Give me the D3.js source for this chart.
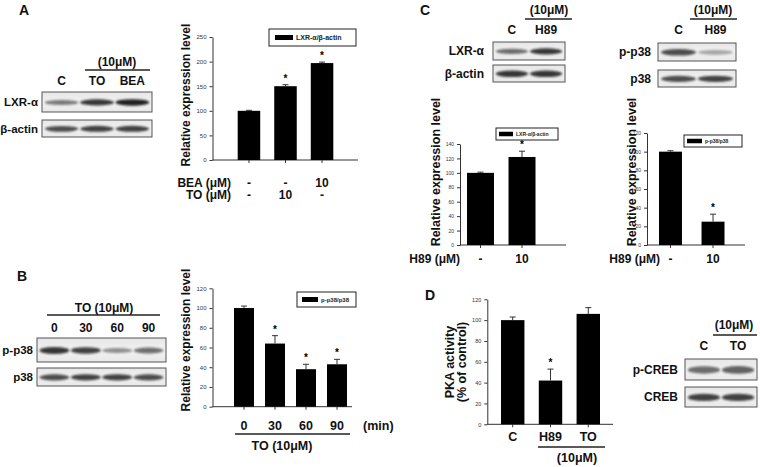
<!DOCTYPE html>
<html><head><meta charset="utf-8">
<script src="https://cdn.jsdelivr.net/npm/d3@7"></script>
<style>body{margin:0;background:#fff} svg{display:block} text{font-family:"Liberation Sans",Arial,sans-serif}</style>
</head><body><svg id="c" width="760" height="467"></svg>
<script>
// ---------- DATA ----------
const aCats = ["C","TO","BEA"];
const aValues = [100,150,197];
const aErrors = [1,3,2];
const aSig = [false,true,true];
const aTicks = [0,50,100,150,200,250];
const aRowBEA = ["-","-","10"];
const aRowTO = ["-","10","-"];
const aBlotLXR = [0.55,0.85,0.95];
const aBlotActin = [0.75,0.8,0.8];

const bCats = ["0","30","60","90"];
const bValues = [100,64,38,43];
const bErrors = [2,8,5,5];
const bSig = [false,true,true,true];
const bTicks = [0,20,40,60,80,100,120];
const bBlotP = [0.85,0.8,0.45,0.6];
const bBlotT = [0.75,0.8,0.8,0.75];

const c1Cats = ["C","H89"];
const c1Values = [100,122];
const c1Errors = [1,8];
const c1Sig = [false,true];
const c1Ticks = [0,20,40,60,80,100,120,140];
const c1Row = ["-","10"];
const c1BlotLXR = [0.6,0.85];
const c1BlotActin = [0.85,0.85];

const c2Cats = ["C","H89"];
const c2Values = [100,25];
const c2Errors = [1,8];
const c2Sig = [false,true];
const c2Ticks = [0,20,40,60,80,100,120];
const c2Row = ["-","10"];
const c2BlotP = [0.75,0.35];
const c2BlotT = [0.75,0.8];

const dCats = ["C","H89","TO"];
const dValues = [100,42,106];
const dErrors = [3,11,6];
const dSig = [false,true,false];
const dTicks = [0,20,40,60,80,100,120];
const dBlotP = [0.6,0.65];
const dBlotT = [0.8,0.8];

// ---------- DRAW ----------
const svg = d3.select("#c");
const defs = svg.append("defs");
defs.append("filter").attr("id","blur").attr("x","-20%").attr("y","-100%").attr("width","140%").attr("height","300%")
  .append("feGaussianBlur").attr("stdDeviation","1.3 0.9");
const grad = defs.append("linearGradient").attr("id","bg").attr("x1",0).attr("y1",0).attr("x2",0).attr("y2",1);
grad.append("stop").attr("offset","0").attr("stop-color","#e6e6e6");
grad.append("stop").attr("offset","0.5").attr("stop-color","#f2f2f2");
grad.append("stop").attr("offset","1").attr("stop-color","#e8e8e8");

function txt(x,y,s,opt={}){
  const t = svg.append("text").attr("x",x).attr("y",y).text(s)
    .attr("font-size",opt.size||12).attr("font-weight",opt.weight||"bold")
    .attr("text-anchor",opt.anchor||"middle").attr("fill",opt.fill||"#111");
  if(opt.rotate) t.attr("transform",`rotate(-90,${x},${y})`);
  return t;
}
function hline(x1,x2,y,w=1.3){
  svg.append("line").attr("x1",x1).attr("x2",x2).attr("y1",y).attr("y2",y).attr("stroke","#222").attr("stroke-width",w);
}
function blot(x0,x1,y0,y1,vals,label,labelX,thick,fs){
  const g = svg.append("g");
  g.append("rect").attr("x",x0).attr("y",y0).attr("width",x1-x0).attr("height",y1-y0)
    .attr("fill","url(#bg)").attr("stroke","#555").attr("stroke-width",1);
  const lane = d3.scaleBand().domain(d3.range(vals.length)).range([x0,x1]).paddingInner(0.05).paddingOuter(0.08);
  const h = y1-y0;
  g.selectAll("ellipse").data(vals).join("ellipse")
    .attr("cx",(d,i)=>lane(i)+lane.bandwidth()/2)
    .attr("cy",y0+h*0.52)
    .attr("rx",lane.bandwidth()*0.5)
    .attr("ry",d=>h*(thick*0.45+thick*0.6*d))
    .attr("fill","#151515").attr("opacity",d=>d)
    .attr("filter","url(#blur)");
  txt(labelX,y0+h*0.5+4.3,label,{anchor:"end",size:fs});
  return lane;
}
function barChart(o){
  const y = d3.scaleLinear().domain([0,o.max]).range([o.y0,o.y1]);
  const x = d3.scaleBand().domain(o.cats).range(o.barRange).paddingInner(o.pad).paddingOuter(0);
  const g = svg.append("g");
  const ya = g.append("g").attr("transform",`translate(${o.ax},0)`)
    .call(d3.axisLeft(y).tickValues(o.ticks).tickSize(3).tickPadding(3).tickSizeOuter(0));
  ya.select(".domain").attr("stroke","#333");
  ya.selectAll(".tick line").attr("stroke","#333");
  ya.selectAll("text").attr("font-size",o.tickSize||6).attr("fill","#333").attr("font-family","Liberation Sans, Arial");
  const xa = g.append("g").attr("transform",`translate(0,${o.y0})`)
    .call(d3.axisBottom(x).tickSize(3).tickFormat("").tickSizeOuter(0));
  xa.select(".domain").attr("d",`M${o.ax},0H${o.axEnd}`).attr("stroke","#333");
  xa.selectAll(".tick line").attr("stroke","#333");
  g.selectAll("rect.bar").data(o.values).join("rect").attr("class","bar")
    .attr("x",(d,i)=>x(o.cats[i])).attr("width",x.bandwidth())
    .attr("y",d=>y(d)).attr("height",d=>o.y0-y(d)).attr("fill","#000");
  const eb = g.selectAll("g.eb").data(o.values).join("g").attr("class","eb");
  eb.append("line").attr("x1",(d,i)=>x(o.cats[i])+x.bandwidth()/2).attr("x2",(d,i)=>x(o.cats[i])+x.bandwidth()/2)
    .attr("y1",d=>y(d)).attr("y2",(d,i)=>y(d+o.errors[i])).attr("stroke","#333").attr("stroke-width",1);
  eb.append("line").attr("x1",(d,i)=>x(o.cats[i])+x.bandwidth()/2-3).attr("x2",(d,i)=>x(o.cats[i])+x.bandwidth()/2+3)
    .attr("y1",(d,i)=>y(d+o.errors[i])).attr("y2",(d,i)=>y(d+o.errors[i])).attr("stroke","#333").attr("stroke-width",1);
  g.selectAll("text.sig").data(o.values).join("text").attr("class","sig")
    .attr("x",(d,i)=>x(o.cats[i])+x.bandwidth()/2)
    .attr("y",(d,i)=>y(d+o.errors[i])-3)
    .attr("text-anchor","middle").attr("font-size",10).attr("font-weight","bold")
    .attr("font-family","Liberation Sans, Arial")
    .text((d,i)=>o.sig[i]?"*":"");
  if(o.legend){
    const L = o.legend;
    g.append("rect").attr("x",L.x0).attr("y",L.y0).attr("width",L.x1-L.x0).attr("height",L.y1-L.y0)
      .attr("fill","#fff").attr("stroke","#222").attr("stroke-width",1);
    const cy=(L.y0+L.y1)/2;
    g.append("rect").attr("x",L.sx0).attr("y",cy-L.sh/2).attr("width",L.sx1-L.sx0).attr("height",L.sh).attr("fill","#000");
    g.append("text").attr("x",L.sx1+3).attr("y",cy+L.fs*0.36).attr("font-size",L.fs).attr("font-weight","bold")
      .attr("fill","#222").attr("font-family","Liberation Sans, Arial").text(L.text);
  }
  return {x,y};
}

// ===== Panel A =====
txt(24,15,"A",{size:14});
txt(117,66,"(10μM)",{size:12});
hline(85,150,70);
const aLane = blot(42,152,92,112,aBlotLXR,"LXR-α",38,0.16,11.5);
aCats.forEach((c,i)=>txt(aLane(i)+aLane.bandwidth()/2,85,c,{size:12}));
blot(42,152,120,137,aBlotActin,"β-actin",38,0.19,11.5);

const A = barChart({cats:aCats,values:aValues,errors:aErrors,sig:aSig,ticks:aTicks,max:250,
  y0:160,y1:37,ax:212.5,axEnd:358,barRange:[237.7,333.3],pad:0.384,
  legend:{x0:269,x1:356,y0:29,y1:46,sx0:275,sx1:293,sh:5,fs:7,text:"LXR-α/β-actin"}});
txt(190,95,"Relative expression level",{rotate:true,size:12});
txt(231,186.5,"BEA (μM)",{anchor:"end",size:12});
txt(231,199,"TO (μM)",{anchor:"end",size:12});
aCats.forEach((c,i)=>{
  const cx=A.x(c)+A.x.bandwidth()/2;
  txt(cx,186.5,aRowBEA[i],{size:12});
  txt(cx,199,aRowTO[i],{size:12});
});

// ===== Panel B =====
txt(22,281,"B",{size:14});
txt(104,312,"TO (10μM)",{size:12});
hline(47,160,315);
const bLane = blot(37,166,338,362,bBlotP,"p-p38",33,0.15,11.5);
bCats.forEach((c,i)=>txt(bLane(i)+bLane.bandwidth()/2,332,c,{size:12}));
blot(37,166,368,386,bBlotT,"p38",33,0.19,11.5);

const B = barChart({cats:bCats,values:bValues,errors:bErrors,sig:bSig,ticks:bTicks,max:120,
  y0:406.7,y1:288.3,ax:212.5,axEnd:352,barRange:[234,347],pad:0.355,
  legend:{x0:297,x1:356,y0:292,y1:307,sx0:302,sx1:318,sh:5,fs:6,text:"p-p38/p38"}});
txt(190,340,"Relative expression level",{rotate:true,size:12});
bCats.forEach(c=>txt(B.x(c)+B.x.bandwidth()/2,430,c,{size:12.5}));
txt(363,430,"(min)",{anchor:"start",size:12.5});
hline(235,350,434);
txt(282,450,"TO (10μM)",{size:12.5});

// ===== Panel C (left) =====
txt(425,15,"C",{size:14});
txt(549,14,"(10μM)",{size:12});
hline(525,572,19);
const c1Lane = blot(493,565,42,60,c1BlotLXR,"LXR-α",484,0.18,12);
c1Cats.forEach((c,i)=>txt(c1Lane(i)+c1Lane.bandwidth()/2,34,c,{size:12}));
blot(493,565,65,82,c1BlotActin,"β-actin",484,0.2,12);

const C1 = barChart({cats:c1Cats,values:c1Values,errors:c1Errors,sig:c1Sig,ticks:c1Ticks,max:140,
  y0:245,y1:144,ax:460,axEnd:566,barRange:[467,535.5],pad:0.35,tickSize:5,
  legend:{x0:496,x1:558,y0:128,y1:140,sx0:499,sx1:513,sh:4.5,fs:5,text:"LXR-α/β-actin"}});
txt(440,172,"Relative expression level",{rotate:true,size:12.5});
txt(460,263,"H89 (μM)",{anchor:"end",size:12});
c1Cats.forEach((c,i)=>txt(C1.x(c)+C1.x.bandwidth()/2,263,c1Row[i],{size:12}));

// ===== Panel C (right) =====
txt(713,14,"(10μM)",{size:12});
hline(690,737,19);
const c2Lane = blot(658,736,43,61,c2BlotP,"p-p38",651,0.2,12);
c2Cats.forEach((c,i)=>txt(c2Lane(i)+c2Lane.bandwidth()/2,34,c,{size:12}));
blot(658,736,70,87,c2BlotT,"p38",651,0.2,12);

const C2 = barChart({cats:c2Cats,values:c2Values,errors:c2Errors,sig:c2Sig,ticks:c2Ticks,max:120,
  y0:245,y1:133,ax:647,axEnd:745,barRange:[659,724.5],pad:0.46,tickSize:5,
  legend:{x0:684,x1:742,y0:135,y1:147,sx0:687,sx1:702,sh:4.5,fs:5,text:"p-p38/p38"}});
txt(636,172,"Relative expression level",{rotate:true,size:12.5});
txt(660,263,"H89 (μM)",{anchor:"end",size:12});
c2Cats.forEach((c,i)=>txt(C2.x(c)+C2.x.bandwidth()/2,263,c2Row[i],{size:12}));

// ===== Panel D =====
txt(430,300,"D",{size:14});
const D = barChart({cats:dCats,values:dValues,errors:dErrors,sig:dSig,ticks:dTicks,max:120,
  y0:424.3,y1:299.3,ax:487.3,axEnd:613,barRange:[501,600],pad:0.38,tickSize:5.5});
txt(454,362,"PKA activity",{rotate:true,size:12.5});
txt(466,362,"(% of control)",{rotate:true,size:12.5});
dCats.forEach(c=>txt(D.x(c)+D.x.bandwidth()/2,441,c,{size:12.5}));
hline(538,605,447);
txt(577,462,"(10μM)",{size:12.5});

txt(734,329,"(10μM)",{size:12});
hline(713,757,335);
const dLane = blot(685,757,359,380,dBlotP,"p-CREB",678,0.22,12);
["C","TO"].forEach((c,i)=>txt(dLane(i)+dLane.bandwidth()/2,350,c,{size:12}));
blot(685,757,387,407,dBlotT,"CREB",678,0.2,12);
</script></body></html>
